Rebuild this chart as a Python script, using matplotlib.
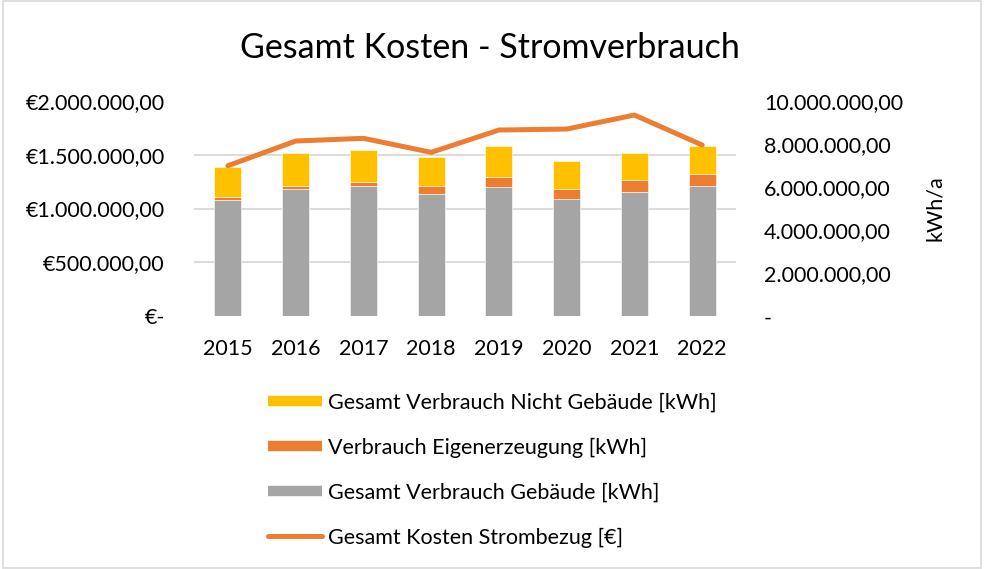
import numpy as np
import matplotlib as mpl
mpl.use('Agg')
import matplotlib.pyplot as plt
from matplotlib.lines import Line2D
from matplotlib.patches import Rectangle
from matplotlib.ticker import FuncFormatter, MultipleLocator, NullFormatter

# data
years = ['2015', '2016', '2017', '2018', '2019', '2020', '2021', '2022']
gebaeude_kwh = [5.39e6, 5.90e6, 6.04e6, 5.67e6, 6.00e6, 5.44e6, 5.77e6, 6.04e6]
eigen_kwh = [0.16e6, 0.16e6, 0.17e6, 0.36e6, 0.47e6, 0.48e6, 0.54e6, 0.57e6]
nicht_gebaeude_kwh = [1.37e6, 1.51e6, 1.49e6, 1.37e6, 1.44e6, 1.30e6, 1.28e6, 1.27e6]
kosten_eur = [1.397e6, 1.626e6, 1.651e6, 1.521e6, 1.728e6, 1.737e6, 1.867e6, 1.589e6]

labels = ['Gesamt Verbrauch Nicht Gebäude [kWh]', 'Verbrauch Eigenerzeugung [kWh]',
          'Gesamt Verbrauch Gebäude [kWh]', 'Gesamt Kosten Strombezug [€]']

c_gray = '#A5A5A5'
c_orange = '#ED7D31'
c_yellow = '#FFC000'

plt.rcParams['font.family'] = ['Lato', 'DejaVu Sans']
fs = 15.5


def de_fmt(v, prefix=''):
    if v == 0:
        return prefix + '-'
    s = '{:,.2f}'.format(v)
    s = s.replace(',', 'X').replace('.', ',').replace('X', '.')
    return prefix + s


fig = plt.figure(figsize=(9.86, 5.69), dpi=100)
fig.patches.append(Rectangle((0.003, 0.002), 0.992, 0.996, transform=fig.transFigure,
                             fill=False, edgecolor='#D9D9D9', linewidth=1.2))

ax = fig.add_axes([0.1968, 0.4441, 0.5497, 0.3789])
axl = ax.twinx()   # cost line on the left scale, drawn above the bars

x = np.arange(len(years))
w = 0.4
g = np.array(gebaeude_kwh)
e = np.array(eigen_kwh)
n = np.array(nicht_gebaeude_kwh)
ax.bar(x, g, w, color=c_gray, edgecolor='white', linewidth=0.4, zorder=2)
ax.bar(x, e, w, bottom=g, color=c_orange, edgecolor='white', linewidth=0.4, zorder=2)
ax.bar(x, n, w, bottom=g + e, color=c_yellow, edgecolor='white', linewidth=0.4, zorder=2)
ax.set_xlim(-0.5, len(years) - 0.5)
ax.set_ylim(0, 10e6)
ax.set_yticks(np.arange(0, 10e6 + 1, 2e6))
ax.yaxis.tick_right()
ax.yaxis.set_label_position('right')
ax.yaxis.set_major_formatter(FuncFormatter(lambda v, p: de_fmt(v)))
# gridlines follow the left (€) scale: every 500.000 € = 2.500.000 kWh
ax.yaxis.set_minor_locator(MultipleLocator(2.5e6))
ax.yaxis.set_minor_formatter(NullFormatter())
ax.grid(axis='y', which='minor', color='#D9D9D9', linewidth=1.3, zorder=0)
ax.set_axisbelow(True)
ax.set_xticks(x)
ax.set_xticklabels(years)
ax.tick_params(axis='both', which='both', length=0, labelsize=fs, colors='#000000')
ax.tick_params(axis='x', pad=16)
ax.tick_params(axis='y', pad=20)
for lab in ax.get_yticklabels():
    lab.set_horizontalalignment('left')
ax.set_ylabel('kWh/a', fontsize=fs, labelpad=16)
for s in ax.spines.values():
    s.set_visible(False)

axl.plot(x, kosten_eur, color=c_orange, linewidth=3.6, solid_capstyle='round', zorder=3)
axl.set_ylim(0, 2e6)
axl.set_yticks(np.arange(0, 2e6 + 1, 5e5))
axl.yaxis.tick_left()
axl.yaxis.set_major_formatter(FuncFormatter(lambda v, p: de_fmt(v, '€')))
axl.tick_params(axis='y', length=0, labelsize=fs, pad=21)
for s in axl.spines.values():
    s.set_visible(False)

fig.text(0.497, 0.916, 'Gesamt Kosten - Stromverbrauch', ha='center', va='center', fontsize=24.5)

handles = [Line2D([], [], color=c_yellow, linewidth=7.5, solid_capstyle='butt'),
           Line2D([], [], color=c_orange, linewidth=7.5, solid_capstyle='butt'),
           Line2D([], [], color=c_gray, linewidth=7.5, solid_capstyle='butt'),
           Line2D([], [], color=c_orange, linewidth=3.6, solid_capstyle='round')]
fig.legend(handles, labels, loc='upper left', bbox_to_anchor=(268 / 986, 1 - 393 / 569),
           frameon=False, fontsize=fs, borderpad=0, borderaxespad=0,
           handlelength=2.5, handletextpad=0.3, labelspacing=1.15)

fig.savefig('out.png', dpi=100)
